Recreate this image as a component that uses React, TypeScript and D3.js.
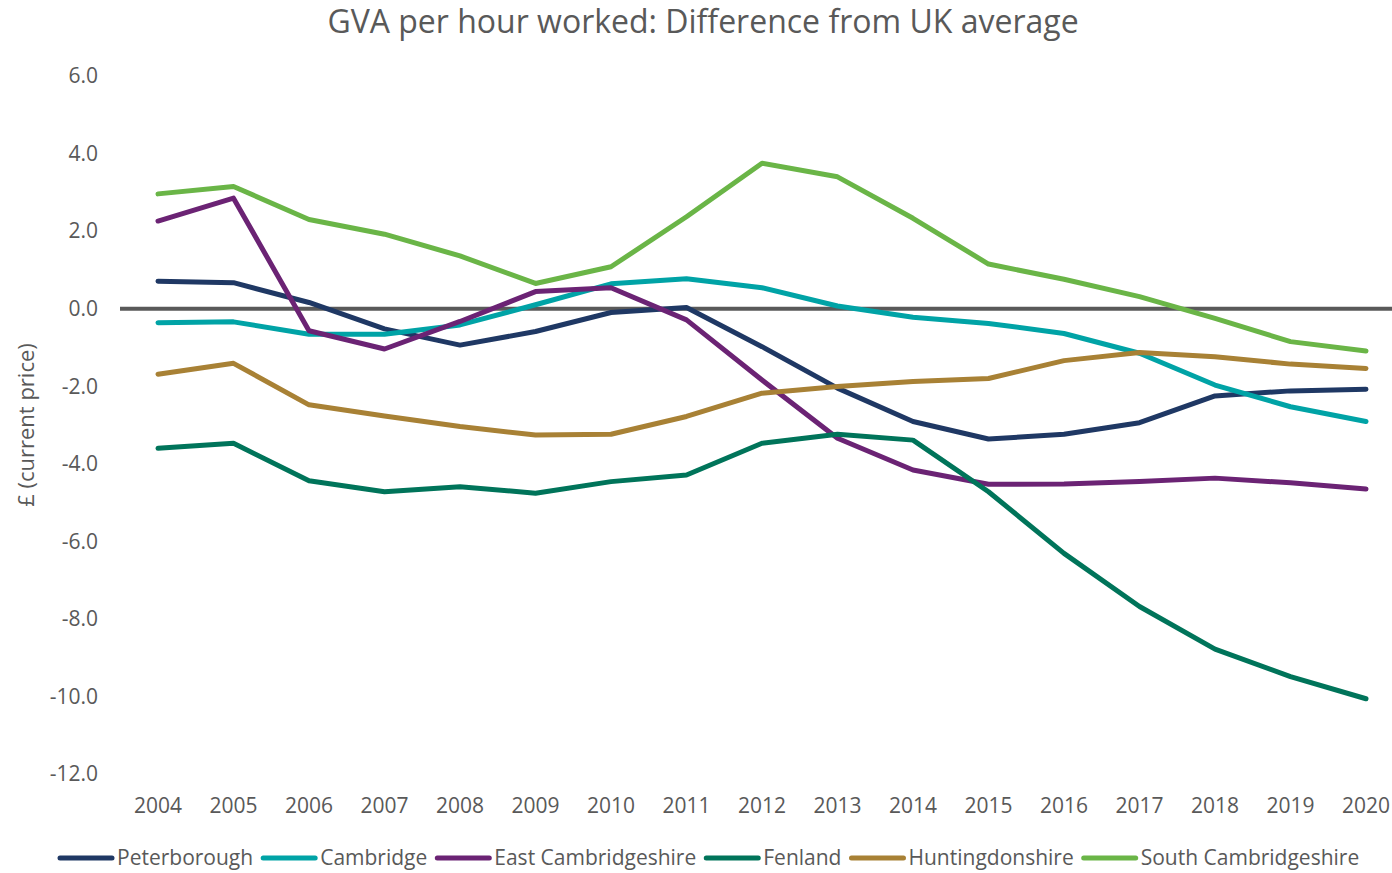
import React, { useEffect, useRef } from "react";
import * as d3 from "d3";

const years = [2004, 2005, 2006, 2007, 2008, 2009, 2010, 2011, 2012, 2013, 2014, 2015, 2016, 2017, 2018, 2019, 2020];
const yTicks = [6, 4, 2, 0, -2, -4, -6, -8, -10, -12];

const peterborough = [0.71, 0.67, 0.16, -0.52, -0.94, -0.59, -0.10, 0.03, -0.98, -2.05, -2.91, -3.36, -3.24, -2.94, -2.25, -2.12, -2.08];
const cambridge = [-0.36, -0.34, -0.66, -0.66, -0.42, 0.10, 0.64, 0.77, 0.54, 0.07, -0.22, -0.38, -0.64, -1.15, -1.97, -2.53, -2.91];
const eastCambs = [2.26, 2.85, -0.57, -1.04, -0.33, 0.44, 0.54, -0.29, -1.84, -3.34, -4.16, -4.53, -4.52, -4.46, -4.37, -4.49, -4.65];
const fenland = [-3.60, -3.47, -4.44, -4.72, -4.59, -4.76, -4.46, -4.29, -3.47, -3.24, -3.39, -4.72, -6.31, -7.68, -8.78, -9.49, -10.06];
const huntingdonshire = [-1.69, -1.41, -2.48, -2.77, -3.04, -3.26, -3.24, -2.78, -2.18, -2.01, -1.88, -1.80, -1.34, -1.13, -1.24, -1.43, -1.54];
const southCambs = [2.96, 3.15, 2.30, 1.92, 1.36, 0.65, 1.08, 2.37, 3.75, 3.40, 2.33, 1.15, 0.76, 0.31, -0.25, -0.85, -1.09];

const seriesNames = ["Peterborough", "Cambridge", "East Cambridgeshire", "Fenland", "Huntingdonshire", "South Cambridgeshire"];
const seriesColors = ["#1f3864", "#00a3a6", "#6b2374", "#00745a", "#a88135", "#6ab547"];
const seriesValues = [peterborough, cambridge, eastCambs, fenland, huntingdonshire, southCambs];

const W = 1392;
const H = 873;
const FONT = "'Open Sans', sans-serif";
const TEXT = "#595959";

export default function App() {
  const ref = useRef<SVGSVGElement>(null);

  useEffect(() => {
    const svg = d3.select(ref.current);
    svg.selectAll("*").remove();

    const x = d3.scaleLinear().domain([2004, 2020]).range([158, 1366]);
    const y = d3.scaleLinear().domain([-12, 6]).range([774, 76]);

    svg.append("text")
      .attr("x", 703).attr("y", 33)
      .attr("text-anchor", "middle")
      .attr("font-family", FONT).attr("font-size", 32)
      .attr("fill", TEXT)
      .text("GVA per hour worked: Difference from UK average");

    svg.append("g").selectAll("text").data(yTicks).join("text")
      .attr("x", 98).attr("y", (d) => y(d)).attr("dy", "0.35em")
      .attr("text-anchor", "end")
      .attr("font-family", FONT).attr("font-size", 21).attr("fill", TEXT)
      .text((d) => d3.format(".1f")(d).replace("−", "-"));

    svg.append("g").selectAll("text").data(years).join("text")
      .attr("x", (d) => x(d)).attr("y", 806).attr("dy", "0.35em")
      .attr("text-anchor", "middle")
      .attr("font-family", FONT).attr("font-size", 21).attr("fill", TEXT)
      .text((d) => String(d));

    svg.append("text")
      .attr("transform", `translate(26,${y(-3)}) rotate(-90)`)
      .attr("text-anchor", "middle").attr("dy", "0.35em")
      .attr("font-family", FONT).attr("font-size", 22).attr("fill", TEXT)
      .text("£ (current price)");

    svg.append("line")
      .attr("x1", 120).attr("x2", 1392)
      .attr("y1", y(0)).attr("y2", y(0))
      .attr("stroke", "#595959").attr("stroke-width", 4);

    const line = d3.line<number>().x((_, i) => x(years[i])).y((d) => y(d));

    seriesValues.forEach((vals, i) => {
      svg.append("path")
        .datum(vals)
        .attr("d", line)
        .attr("fill", "none")
        .attr("stroke", seriesColors[i])
        .attr("stroke-width", 5)
        .attr("stroke-linecap", "round")
        .attr("stroke-linejoin", "round");
    });

    const legend = svg.append("g");
    let cx = 60;
    const ly = 858;
    seriesNames.forEach((name, i) => {
      legend.append("line")
        .attr("x1", cx).attr("x2", cx + 52)
        .attr("y1", ly).attr("y2", ly)
        .attr("stroke", seriesColors[i]).attr("stroke-width", 5)
        .attr("stroke-linecap", "round");
      const t = legend.append("text")
        .attr("x", cx + 57).attr("y", ly).attr("dy", "0.35em")
        .attr("font-family", FONT).attr("font-size", 21).attr("fill", TEXT)
        .text(name);
      const w = (t.node() as SVGTextElement).getComputedTextLength();
      cx = cx + 57 + w + 10;
    });
  }, []);

  return <svg ref={ref} width={W} height={H} style={{ position: "absolute", left: 0, top: 0 }} />;
}
